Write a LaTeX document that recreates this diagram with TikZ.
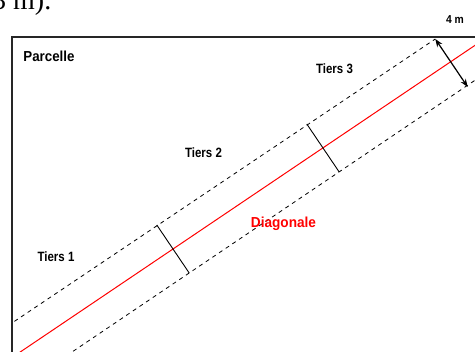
\documentclass[tikz,border=0pt]{standalone}
\usepackage{fontspec}
\setmainfont{Liberation Sans}
\newfontfamily\capfont{Liberation Serif}
\usetikzlibrary{arrows.meta,calc}
\tikzset{
  lbl/.style={font=\bfseries, anchor=base, inner sep=0pt},
  edge/.style={line width=1.3pt, draw=black!85},
  band/.style={dash pattern=on 4pt off 4pt, line width=0.8pt},
  diag/.style={draw=red, line width=1pt},
  tick/.style={line width=0.9pt},
  dim/.style={line width=1.2pt, {Stealth[length=8pt,width=6pt]}-{Stealth[length=8pt,width=6pt]}}
}
\begin{document}
\begin{tikzpicture}[x=1pt,y=-1pt]
\useasboundingbox (0,0) rectangle (475,352);
\clip (0,0) rectangle (475,352);
% caption fragment
\node[anchor=base west, inner sep=0pt, font=\capfont\fontsize{28}{30}\selectfont] (cap) at (-8,10) {3 m).};
% geometry
\coordinate (d) at (0.829,-0.559);
\coordinate (c1) at (173,249);
\coordinate (c2) at (323,148);
\coordinate (c3) at (451.5,63);
\coordinate (t1a) at ($(c1)+(-16.2,-24)$);
\coordinate (t1b) at ($(c1)+(16.2,24)$);
\coordinate (t2a) at ($(c2)+(-16.2,-24)$);
\coordinate (t2b) at ($(c2)+(16.2,24)$);
\coordinate (t3a) at ($(c3)+(-16.2,-24)$);
\coordinate (t3b) at ($(c3)+(16.2,24)$);
% parcel border
\coordinate (tl) at (12,37);
\coordinate (tr) at (480,37);
\coordinate (bl) at (12,360);
\begin{scope}
\clip (12,37) rectangle (480,360);
\draw[diag] ($(c1)+(-300*0.829,300*0.559)$) coordinate (r0) -- ($(c1)+(400*0.829,-400*0.559)$) coordinate (r1);
\draw[band] ($(t1a)+(-300*0.829,300*0.559)$) coordinate (u0) -- (t3a);
\draw[band] ($(t1b)+(-300*0.829,300*0.559)$) coordinate (l0) -- ($(t1b)+(400*0.829,-400*0.559)$) coordinate (l1);
\end{scope}
\draw[tick] (t1a) -- (t1b);
\draw[tick] (t2a) -- (t2b);
\draw[dim] (t3a) -- (t3b);
\draw[edge] (tr) -- (tl) -- (bl);
% labels
\node[lbl, font=\bfseries\fontsize{14.5}{16}\selectfont] (parcelle) at (49,62) {\scalebox{0.92}[1]{Parcelle}};
\node[lbl, font=\bfseries\fontsize{13.5}{15}\selectfont] (tiers3) at (334.5,74) {\scalebox{0.85}[1]{Tiers 3}};
\node[lbl, font=\bfseries\fontsize{13.5}{15}\selectfont] (tiers2) at (203.5,158) {\scalebox{0.85}[1]{Tiers 2}};
\node[lbl, font=\bfseries\fontsize{13.5}{15}\selectfont] (tiers1) at (56,262) {\scalebox{0.85}[1]{Tiers 1}};
\node[lbl, font=\bfseries\fontsize{14.5}{16}\selectfont, text=red] (diagonale) at (283.5,228) {\scalebox{0.94}[1]{Diagonale}};
\node[lbl, font=\bfseries\fontsize{11.5}{13}\selectfont] (quatre) at (455,23.5) {\scalebox{0.9}[1]{4 m}};
\end{tikzpicture}
\end{document}
